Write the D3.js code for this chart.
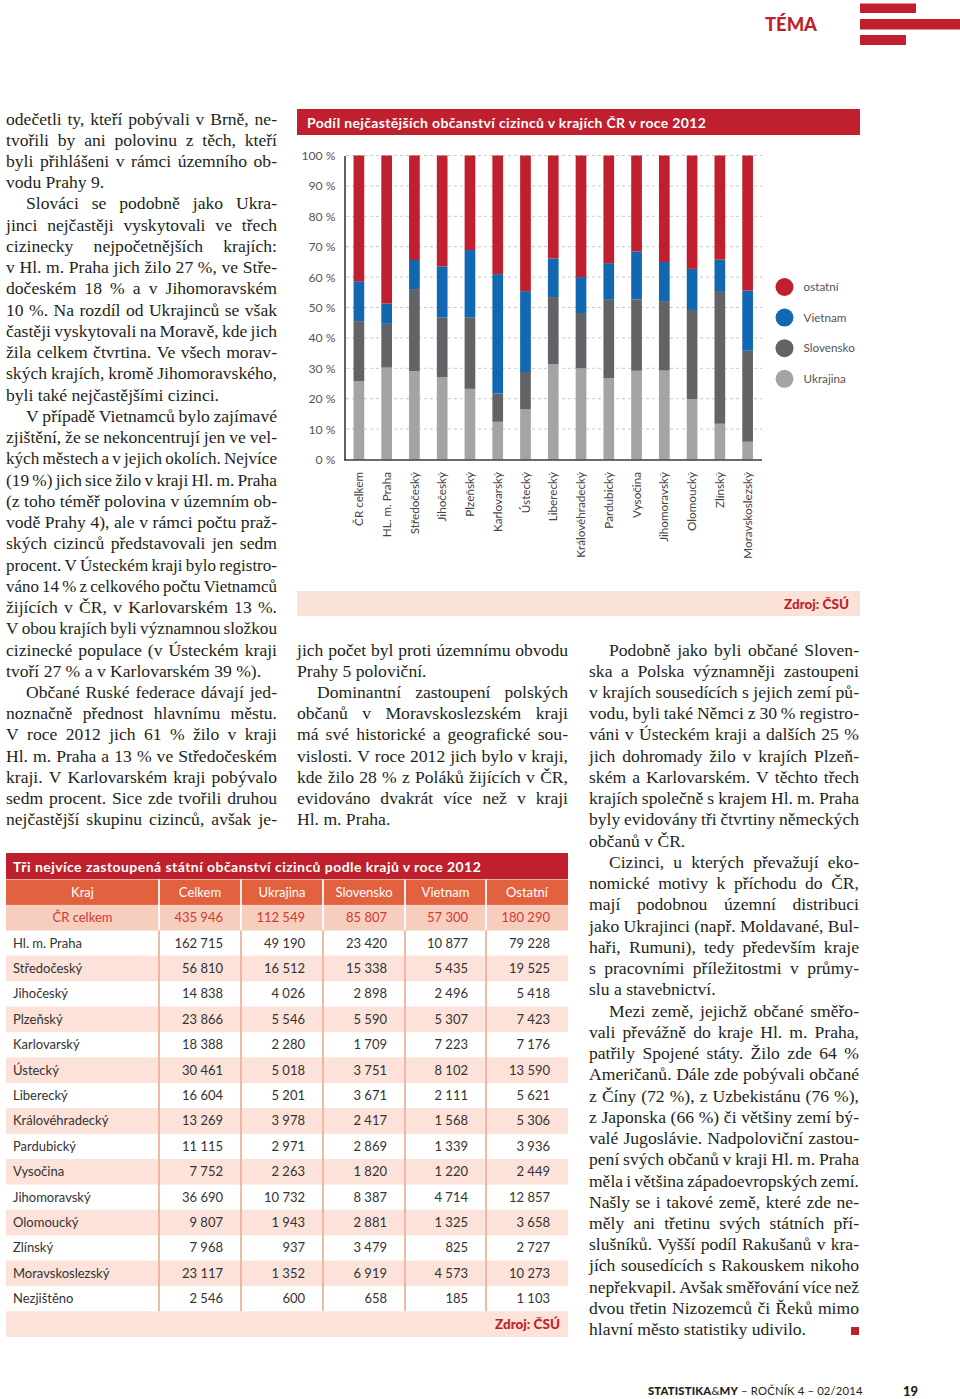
<!DOCTYPE html>
<html><head><meta charset="utf-8">
<script src="https://cdn.jsdelivr.net/npm/d3@7"></script>
<style>body{margin:0;background:#fff}svg{display:block}</style>
</head><body>
<svg id="page" width="960" height="1399"></svg>
<script>
// ---------- DATA ----------
const regions = ["ČR celkem","Hl. m. Praha","Středočeský","Jihočeský","Plzeňský","Karlovarský","Ústecký","Liberecký","Královéhradecký","Pardubický","Vysočina","Jihomoravský","Olomoucký","Zlínský","Moravskoslezský","Nezjištěno"];
const chartLabels = ["ČR celkem","HL. m. Praha","Středočeský","Jihočeský","Plzeňský","Karlovarský","Ústecký","Liberecký","Královéhradecký","Pardubický","Vysočina","Jihomoravský","Olomoucký","Zlínský","Moravskoslezský"];
const celkem   = [435946,162715,56810,14838,23866,18388,30461,16604,13269,11115,7752,36690,9807,7968,23117,2546];
const ukrajina = [112549,49190,16512,4026,5546,2280,5018,5201,3978,2971,2263,10732,1943,937,1352,600];
const slovensko= [85807,23420,15338,2898,5590,1709,3751,3671,2417,2869,1820,8387,2881,3479,6919,658];
const vietnam  = [57300,10877,5435,2496,5307,7223,8102,2111,1568,1339,1220,4714,1325,825,4573,185];
const ostatni  = [180290,79228,19525,5418,7423,7176,13590,5621,5306,3936,2449,12857,3658,2727,10273,1103];
const seriesKeys = ["Ukrajina","Slovensko","Vietnam","ostatní"];
const legendOrder = ["ostatní","Vietnam","Slovensko","Ukrajina"];
const tableHeaders = ["Kraj","Celkem","Ukrajina","Slovensko","Vietnam","Ostatní"];
const yTicks = [0,0.1,0.2,0.3,0.4,0.5,0.6,0.7,0.8,0.9,1];
const chartTitle = "Podíl nejčastějších občanství cizinců v krajích ČR v roce 2012";
const tableTitle = "Tři nejvíce zastoupená státní občanství cizinců podle krajů v roce 2012";
const sourceText = "Zdroj: ČSÚ";

const colLeft = [
 ["odečetli ty, kteří pobývali v Brně, ne-","tvořili by ani polovinu z těch, kteří","byli přihlášeni v rámci územního ob-","vodu Prahy 9."],
 ["Slováci se podobně jako Ukra-","jinci nejčastěji vyskytovali ve třech","cizinecky nejpočetnějších krajích:","v Hl. m. Praha jich žilo 27 %, ve Stře-","dočeském 18 % a v Jihomoravském","10 %. Na rozdíl od Ukrajinců se však","častěji vyskytovali na Moravě, kde jich","žila celkem čtvrtina. Ve všech morav-","ských krajích, kromě Jihomoravského,","byli také nejčastějšími cizinci."],
 ["V případě Vietnamců bylo zajímavé","zjištění, že se nekoncentrují jen ve vel-","kých městech a v jejich okolích. Nejvíce","(19 %) jich sice žilo v kraji Hl. m. Praha","(z toho téměř polovina v územním ob-","vodě Prahy 4), ale v rámci počtu praž-","ských cizinců představovali jen sedm","procent. V Ústeckém kraji bylo registro-","váno 14 % z celkového počtu Vietnamců","žijících v ČR, v Karlovarském 13 %.","V obou krajích byli významnou složkou","cizinecké populace (v Ústeckém kraji","tvoří 27 % a v Karlovarském 39 %)."],
 ["Občané Ruské federace dávají jed-","noznačně přednost hlavnímu městu.","V roce 2012 jich 61 % žilo v kraji","Hl. m. Praha a 13 % ve Středočeském","kraji. V Karlovarském kraji pobývalo","sedm procent. Sice zde tvořili druhou","nejčastější skupinu cizinců, avšak je-"]
];
const colMid = [
 ["jich počet byl proti územnímu obvodu","Prahy 5 poloviční."],
 ["Dominantní zastoupení polských","občanů v Moravskoslezském kraji","má své historické a geografické sou-","vislosti. V roce 2012 jich bylo v kraji,","kde žilo 28 % z Poláků žijících v ČR,","evidováno dvakrát více než v kraji","Hl. m. Praha."]
];
const colRight = [
 ["Podobně jako byli občané Sloven-","ska a Polska významněji zastoupeni","v krajích sousedících s jejich zemí pů-","vodu, byli také Němci z 30 % registro-","váni v Ústeckém kraji a dalších 25 %","jich dohromady žilo v krajích Plzeň-","ském a Karlovarském. V těchto třech","krajích společně s krajem Hl. m. Praha","byly evidovány tři čtvrtiny německých","občanů v ČR."],
 ["Cizinci, u kterých převažují eko-","nomické motivy k příchodu do ČR,","mají podobnou územní distribuci","jako Ukrajinci (např. Moldavané, Bul-","haři, Rumuni), tedy především kraje","s pracovními příležitostmi v průmy-","slu a stavebnictví."],
 ["Mezi země, jejichž občané směřo-","vali převážně do kraje Hl. m. Praha,","patřily Spojené státy. Žilo zde 64 %","Američanů. Dále zde pobývali občané","z Číny (72 %), z Uzbekistánu (76 %),","z Japonska (66 %) či většiny zemí bý-","valé Jugoslávie. Nadpoloviční zastou-","pení svých občanů v kraji Hl. m. Praha","měla i většina západoevropských zemí.","Našly se i takové země, které zde ne-","měly ani třetinu svých státních pří-","slušníků. Vyšší podíl Rakušanů v kra-","jích sousedících s Rakouskem nikoho","nepřekvapil. Avšak směřování více než","dvou třetin Nizozemců či Řeků mimo","hlavní město statistiky udivilo."]
];

// ---------- STYLE ----------
const RED = "#c01f2d", BLUE = "#1168b0", DGRAY = "#626366", LGRAY = "#a3a4a6";
const color = d3.scaleOrdinal().domain(seriesKeys).range([LGRAY, DGRAY, BLUE, RED]);
const SANS = "Lato, 'Noto Sans', sans-serif";
const SERIF = "'Liberation Serif', serif";
const BODY_FS = 17.6;

const svg = d3.select("#page");

// ---------- HEADER ----------
svg.append("text").attr("x",765).attr("y",31).attr("font-family",SANS).attr("font-weight",900)
  .attr("font-size",18).attr("fill",RED).attr("textLength",52).attr("lengthAdjust","spacingAndGlyphs").text("TÉMA");
svg.append("rect").attr("x",860).attr("y",3.5).attr("width",56).attr("height",9.5).attr("fill",RED);
svg.append("rect").attr("x",860).attr("y",19).attr("width",100).attr("height",10.5).attr("fill",RED);
svg.append("rect").attr("x",860).attr("y",35).attr("width",46).attr("height",10).attr("fill",RED);

// ---------- BODY TEXT ----------
function column(paras, x0, width, base0, firstCont, lastCont){
  const lh = 21.24, indent = 20;
  let i = 0;
  const g = svg.append("g").attr("font-family",SERIF).attr("font-size",BODY_FS).attr("fill","#231f20");
  paras.forEach((lines, pi)=>{
    lines.forEach((line, li)=>{
      const y = base0 + i*lh;
      const ind = (li===0 && !(pi===0 && firstCont)) ? indent : 0;
      const isLast = li===lines.length-1 && !(pi===paras.length-1 && lastCont);
      const avail = width-ind;
      if(isLast){
        const t = g.append("text").attr("x",x0+ind).attr("y",y).text(line);
        const w = t.node().getComputedTextLength();
        if(w>avail) t.attr("textLength",avail).attr("lengthAdjust","spacingAndGlyphs");
      } else {
        const words = line.split(" ");
        const ts = words.map(w=>g.append("text").attr("y",y).text(w));
        let ws = ts.map(t=>t.node().getComputedTextLength());
        let total = d3.sum(ws);
        const minGap = 3.2;
        if(total + minGap*(words.length-1) > avail){
          const s = (avail - minGap*(words.length-1))/total;
          ts.forEach((t,k)=>{ t.attr("font-size",BODY_FS*s); });
          ws = ws.map(w=>w*s); total = d3.sum(ws);
        }
        const gap = (avail-total)/(words.length-1);
        let cx = x0+ind;
        ts.forEach((t,k)=>{ t.attr("x",cx); cx += ws[k]+gap; });
      }
      i++;
    });
  });
}
column(colLeft, 6, 271, 124.5, true, true);
column(colMid, 297, 271, 655.5, true, false);
column(colRight, 589, 270, 655.5, false, false);
svg.append("rect").attr("x",851).attr("y",1327).attr("width",8).attr("height",8).attr("fill",RED);

// ---------- CHART ----------
svg.append("rect").attr("x",297).attr("y",109).attr("width",563).attr("height",26).attr("fill",RED);
svg.append("text").attr("x",307).attr("y",127.5).attr("font-family",SANS).attr("font-weight",700)
  .attr("font-size",14).attr("letter-spacing",0.35).attr("fill","#fff").text(chartTitle);

const nChart = chartLabels.length;
const chartData = d3.range(nChart).map(i=>({label:chartLabels[i],"Ukrajina":ukrajina[i],"Slovensko":slovensko[i],"Vietnam":vietnam[i],"ostatní":ostatni[i]}));
const stack = d3.stack().keys(seriesKeys).offset(d3.stackOffsetExpand);
const stacked = stack(chartData);

const x = d3.scaleBand().domain(chartLabels).range([345,761.5]).paddingInner(0.615).paddingOuter(0.3075);
const y = d3.scaleLinear().domain([0,1]).range([459.5,155.5]);

// grid
svg.append("g").selectAll("line").data(yTicks.filter(d=>d>0)).join("line")
  .attr("x1",346).attr("x2",762).attr("y1",d=>y(d)).attr("y2",d=>y(d))
  .attr("stroke","#c9c9c9").attr("stroke-width",1).attr("stroke-dasharray","3,3");

// bars
svg.append("g").selectAll("g").data(stacked).join("g").attr("fill",d=>color(d.key))
  .selectAll("rect").data(d=>d).join("rect")
  .attr("x",d=>x(d.data.label)).attr("width",x.bandwidth())
  .attr("y",d=>y(d[1])).attr("height",d=>y(d[0])-y(d[1]));

// y axis
const yAx = svg.append("g").attr("transform","translate(344.5,0)")
  .call(d3.axisLeft(y).tickValues(yTicks).tickSize(0).tickPadding(9).tickFormat(d=>Math.round(d*100)+" %"));
yAx.select(".domain").attr("stroke","#3a3a3a").attr("stroke-width",1.6);
yAx.selectAll("text").attr("font-family",SANS).attr("font-size",12.2).attr("fill","#555");

// x axis
const xAx = svg.append("g").attr("transform","translate(0,460)")
  .call(d3.axisBottom(x).tickSize(0).tickSizeOuter(0));
xAx.select(".domain").attr("stroke","#3a3a3a").attr("stroke-width",1.6).attr("d","M344,0H762");
xAx.selectAll("text").attr("font-family",SANS).attr("font-size",11.7).attr("fill","#444")
  .attr("text-anchor","end").attr("transform","translate(0,12) rotate(-90)").attr("x",0).attr("y",0).attr("dy","0.35em");

// legend
const lg = svg.append("g").selectAll("g").data(legendOrder).join("g")
  .attr("transform",(d,i)=>`translate(784.5,${287+i*30.6})`);
lg.append("circle").attr("r",9).attr("fill",d=>color(d));
lg.append("text").attr("x",19).attr("dy","0.35em").attr("font-family",SANS).attr("font-size",11.7).attr("fill","#555").text(d=>d);

// source bar
svg.append("rect").attr("x",297).attr("y",591).attr("width",563).attr("height",25).attr("fill","#fbe2d9");
svg.append("text").attr("x",849).attr("y",608.5).attr("text-anchor","end").attr("font-family",SANS)
  .attr("font-weight",900).attr("font-size",13.5).attr("fill",RED).text(sourceText);

// ---------- TABLE ----------
const T0 = 879.5, RH = 25.4;
const edges = [6,159,241,323,405,486,568];
const fmt = d3.formatLocale({decimal:",",thousands:"\u2009",grouping:[3],currency:["",""]}).format(",d");
const fmtS = v => fmt(v).replace(/\u2009/g," ");
svg.append("rect").attr("x",6).attr("y",853).attr("width",562).attr("height",26).attr("fill",RED);
svg.append("text").attr("x",13).attr("y",871.5).attr("font-family",SANS).attr("font-weight",700)
  .attr("font-size",14).attr("letter-spacing",0.45).attr("fill","#fff").text(tableTitle);

const nRows = regions.length; // 16
for(let r=0;r<nRows+2;r++){
  let fill = null;
  if(r===0) fill="#e2623f";
  else if(r===1) fill="#f7cdbd";
  else if(r===nRows+1) fill="#fce2d9";
  else if(r%2===1) fill="#fce2d9";
  if(fill) svg.append("rect").attr("x",6).attr("y",T0+r*RH).attr("width",562).attr("height",RH+0.3).attr("fill",fill);
}
edges.slice(1,-1).forEach(e=>{
  svg.append("line").attr("x1",e).attr("x2",e).attr("y1",T0+2*RH).attr("y2",T0+(nRows+1)*RH)
    .attr("stroke","#eeb39e").attr("stroke-width",1.8);
  svg.append("line").attr("x1",e).attr("x2",e).attr("y1",T0).attr("y2",T0+2*RH)
    .attr("stroke","#fff").attr("stroke-width",1.8);
});
tableHeaders.forEach((h,k)=>{
  svg.append("text").attr("x",(edges[k]+edges[k+1])/2).attr("y",T0+RH/2).attr("dy","0.35em")
    .attr("text-anchor","middle").attr("font-family",SANS).attr("font-size",13).attr("fill","#fff").text(h);
});
const cols = [celkem,ukrajina,slovensko,vietnam,ostatni];
regions.forEach((reg,i)=>{
  const r = i+1, cy = T0+r*RH+RH/2;
  const isTot = i===0;
  const fc = isTot ? "#cf3a35" : "#333";
  svg.append("text").attr("x",isTot?(edges[0]+edges[1])/2:13).attr("y",cy).attr("dy","0.35em")
    .attr("text-anchor",isTot?"middle":"start").attr("font-family",SANS).attr("font-size",13).attr("fill",fc).text(reg);
  cols.forEach((arr,k)=>{
    svg.append("text").attr("x",edges[k+2]-18).attr("y",cy).attr("dy","0.35em").attr("text-anchor","end")
      .attr("font-family",SANS).attr("font-size",13).attr("fill",fc).text(fmtS(arr[i]));
  });
});
svg.append("text").attr("x",560).attr("y",T0+(nRows+1)*RH+RH/2).attr("dy","0.35em").attr("text-anchor","end")
  .attr("font-family",SANS).attr("font-weight",900).attr("font-size",13.5).attr("fill",RED).text(sourceText);

// ---------- FOOTER ----------
const ft = svg.append("text").attr("x",648).attr("y",1395).attr("font-family",SANS).attr("font-size",11.3)
  .attr("letter-spacing",0.15).attr("fill","#231f20");
ft.append("tspan").attr("font-weight",900).text("STATISTIKA");
ft.append("tspan").text("&");
ft.append("tspan").attr("font-weight",900).text("MY");
ft.append("tspan").text(" – ROČNÍK 4 – 02/2014");
svg.append("text").attr("x",903).attr("y",1396).attr("font-family",SANS).attr("font-weight",900).attr("font-size",13).attr("fill","#231f20").text("19");
</script>
</body></html>
